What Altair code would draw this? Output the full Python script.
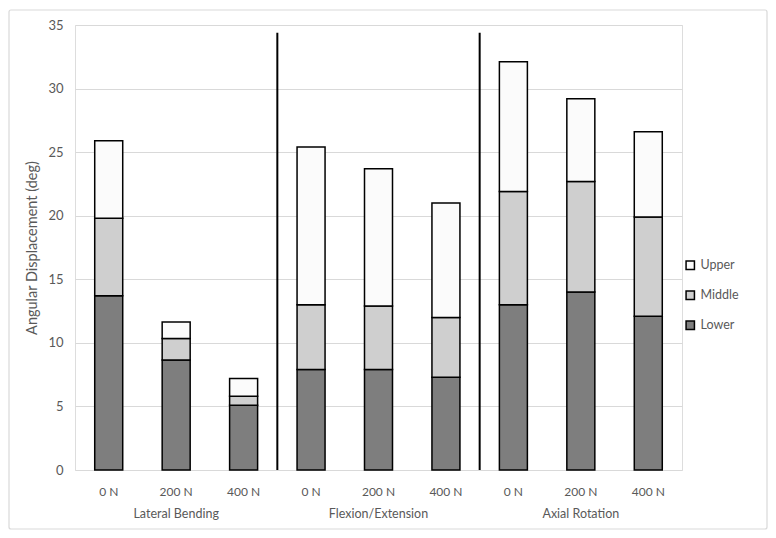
import altair as alt
import pandas as pd

groups = ["Lateral Bending", "Flexion/Extension", "Axial Rotation"]
loads = ["0 N", "200 N", "400 N"]
segments = ["Upper", "Middle", "Lower"]

# cumulative tops (deg)
lower_top = [13.7, 8.65, 5.1, 7.9, 7.9, 7.3, 13.0, 14.0, 12.1]
middle_top = [19.8, 10.35, 5.8, 13.0, 12.9, 12.0, 21.9, 22.7, 19.9]
upper_top = [25.9, 11.65, 7.2, 25.4, 23.7, 21.0, 32.1, 29.2, 26.6]

divider_top = 34.4

keys = [f"{g}|{l}" for g in groups for l in loads]

rows = []
for i, k in enumerate(keys):
    rows.append({"key": k, "segment": "Lower", "y0": 0, "y1": lower_top[i], "ord": 0})
    rows.append({"key": k, "segment": "Middle", "y0": lower_top[i], "y1": middle_top[i], "ord": 1})
    rows.append({"key": k, "segment": "Upper", "y0": middle_top[i], "y1": upper_top[i], "ord": 2})
df = pd.DataFrame(rows)

div_df = pd.DataFrame({"key": [f"{groups[1]}|{loads[0]}", f"{groups[2]}|{loads[0]}"],
                       "y0": [0, 0], "y1": [divider_top, divider_top]})
grp_df = pd.DataFrame({"key": [f"{g}|{loads[1]}" for g in groups], "label": groups})

W, H = 607, 445
FONT = "Lato"
GRAY = "#595959"

xscale = alt.Scale(domain=keys, paddingInner=0, paddingOuter=0)
yscale = alt.Scale(domain=[0, 35])

bars = alt.Chart(df).mark_bar(size=28, stroke="black", strokeWidth=1.5).encode(
    x=alt.X("key:N", scale=xscale, sort=keys,
            axis=alt.Axis(title=None, labelAngle=0, ticks=False, domain=False,
                          labelExpr="split(datum.value,'|')[1]", labelPadding=16,
                          labelFontSize=12, labelColor=GRAY, labelFont=FONT)),
    y=alt.Y("y0:Q", scale=yscale,
            axis=alt.Axis(title="Angular Displacement (deg)", values=[0, 5, 10, 15, 20, 25, 30, 35],
                          ticks=False, domain=False, gridColor="#d9d9d9", labelPadding=12,
                          labelFontSize=13, labelColor=GRAY, labelFont=FONT,
                          titleFontSize=14.5, titleColor=GRAY, titleFont=FONT,
                          titleFontWeight="normal", titlePadding=8)),
    y2="y1:Q",
    fill=alt.Fill("segment:N",
                  scale=alt.Scale(domain=segments, range=["#fbfbfb", "#cfcfcf", "#7e7e7e"]),
                  legend=alt.Legend(title=None, orient="none", legendX=609, legendY=234,
                                    symbolType="square", symbolSize=70, symbolStrokeColor="black",
                                    symbolStrokeWidth=1.5, rowPadding=15, labelFontSize=12.5,
                                    labelColor=GRAY, labelFont=FONT, labelOffset=4)),
    order=alt.Order("ord:Q"),
)

dividers = alt.Chart(div_df).mark_rule(color="black", strokeWidth=2).encode(
    x=alt.X("key:N", scale=xscale, sort=keys, bandPosition=0),
    y=alt.Y("y0:Q", scale=yscale),
    y2="y1:Q",
)

glabels = alt.Chart(grp_df).mark_text(fontSize=12.5, color=GRAY, font=FONT).encode(
    x=alt.X("key:N", scale=xscale, sort=keys, bandPosition=0.5),
    y=alt.value(H + 44),
    text="label:N",
)

frame = alt.Chart(pd.DataFrame({"a": [0]})).mark_rect(
    fill=None, stroke="#d9d9d9", strokeWidth=1.2, cornerRadius=2
).encode(
    x=alt.value(-66), x2=alt.value(W + 85), y=alt.value(-15), y2=alt.value(H + 59)
)

chart = alt.layer(frame, bars, dividers, glabels).properties(
    width=W, height=H,
    autosize=alt.AutoSizeParams(type="none"),
    padding={"left": 67, "top": 17, "right": 86, "bottom": 60},
).configure_view(stroke=None).configure(background="white")

chart.save("out.html", embed_options={"renderer": "svg", "actions": False})
